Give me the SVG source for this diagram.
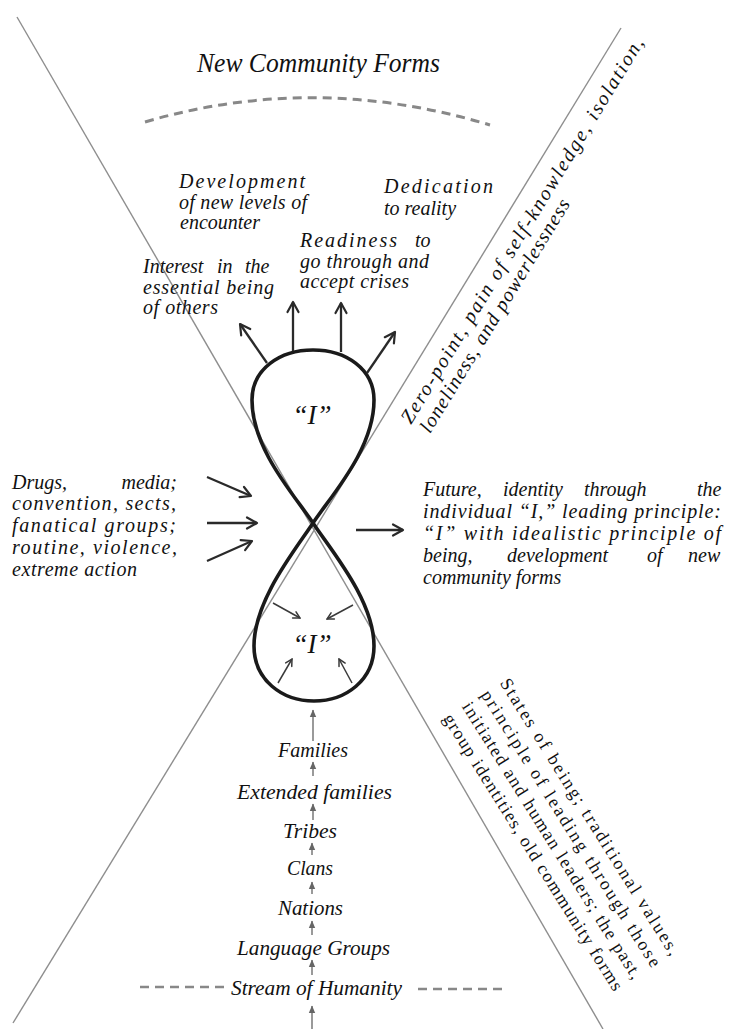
<svg xmlns="http://www.w3.org/2000/svg" width="734" height="1029" viewBox="0 0 734 1029">
<style>
text{font-family:'Liberation Serif','Times New Roman','DejaVu Serif',serif}
.it{font-style:italic;font-size:20px;fill:#111}
.st{font-size:21px}
.rm{font-style:normal;font-size:18px;fill:#111}
.ttl{font-size:27px}
.big{font-size:27px}
.guide{stroke:#8e8e8e;stroke-width:1.4;fill:none}
.dash{stroke:#888;stroke-width:3;fill:none;stroke-dasharray:9 6}
.arr{stroke:#2a2a2a;stroke-width:2.3;fill:none;marker-end:url(#ah)}
.arrs{stroke:#3a3a3a;stroke-width:1.5;fill:none;marker-end:url(#ahs)}
.arrg{stroke:#9a9a9a;stroke-width:2;fill:none;marker-end:url(#ahg)}
.eight{stroke:#1a1a1a;stroke-width:3.6;fill:none;stroke-linejoin:round}
</style>
<defs>
<marker id="ah" markerUnits="userSpaceOnUse" markerWidth="16" markerHeight="16" viewBox="0 0 16 16" refX="13" refY="8" orient="auto"><path d="M3,2.5 L13,8 L3,13.5" fill="none" stroke="#2a2a2a" stroke-width="2.2" stroke-linecap="round" stroke-linejoin="round"/></marker>
<marker id="ahs" markerUnits="userSpaceOnUse" markerWidth="10" markerHeight="10" viewBox="0 0 10 10" refX="8.5" refY="5" orient="auto"><path d="M2,1.5 L8.5,5 L2,8.5" fill="none" stroke="#3a3a3a" stroke-width="1.5" stroke-linecap="round"/></marker>
<marker id="ahg" markerUnits="userSpaceOnUse" markerWidth="8" markerHeight="8" viewBox="0 0 8 8" refX="7" refY="4" orient="auto"><path d="M0,0.8 L7.5,4 L0,7.2 z" fill="#666"/></marker>
</defs>
<rect width="734" height="1029" fill="#fff"/>

<g id="guides">
<line class="guide" x1="17" y1="17" x2="603" y2="1029"/>
<line class="guide" x1="621" y1="28" x2="13" y2="1023"/>
</g>

<g id="node-title"><text class="it ttl" x="197" y="72" textLength="243" lengthAdjust="spacingAndGlyphs">New Community Forms</text></g>
<g id="node-arc"><path class="dash" d="M145,122 Q315,72 490,125"/></g>

<g id="node-zero" transform="translate(411,425) rotate(-58.6)">
<text class="it" x="0" y="0" textLength="448" lengthAdjust="spacing">Zero-point, pain of self-knowledge, isolation,</text>
<text class="it" x="2" y="21" textLength="270" lengthAdjust="spacing">loneliness, and powerlessness</text>
</g>

<g id="node-development">
<text class="it" x="179" y="188" textLength="126" lengthAdjust="spacing">Development</text>
<text class="it" x="179" y="209" textLength="128" lengthAdjust="spacing">of new levels of</text>
<text class="it" x="180" y="229">encounter</text>
</g>
<g id="node-dedication">
<text class="it" x="384" y="193" textLength="109" lengthAdjust="spacing">Dedication</text>
<text class="it" x="384" y="215">to reality</text>
</g>
<g id="node-readiness">
<text class="it" x="300" y="247" textLength="97" lengthAdjust="spacing">Readiness</text>
<text class="it" x="415" y="247">to</text>
<text class="it" x="300" y="268" textLength="129" lengthAdjust="spacing">go through and</text>
<text class="it" x="300" y="288" textLength="109" lengthAdjust="spacing">accept crises</text>
</g>
<g id="node-interest">
<text class="it" y="273"><tspan x="143">Interest</tspan><tspan x="217">in</tspan><tspan x="245">the</tspan></text>
<text class="it" x="143" y="294" textLength="131" lengthAdjust="spacing">essential being</text>
<text class="it" x="143" y="314" textLength="75" lengthAdjust="spacing">of others</text>
</g>

<g id="node-drugs">
<text class="it" x="12" y="489">Drugs,</text>
<text class="it" x="177" y="489" text-anchor="end">media;</text>
<text class="it" x="12" y="510" textLength="164" lengthAdjust="spacing">convention, sects,</text>
<text class="it" x="12" y="532" textLength="164" lengthAdjust="spacing">fanatical groups;</text>
<text class="it" x="12" y="554" textLength="165" lengthAdjust="spacing">routine, violence,</text>
<text class="it" x="12" y="576" textLength="125" lengthAdjust="spacing">extreme action</text>
</g>

<g id="node-future">
<text class="it" y="496"><tspan x="423">Future,</tspan><tspan x="503">identity</tspan><tspan x="584">through</tspan><tspan x="697">the</tspan></text>
<text class="it" x="423" y="518" textLength="298" lengthAdjust="spacing">individual “I,” leading principle:</text>
<text class="it" x="423" y="540" textLength="298" lengthAdjust="spacing">“I” with idealistic principle of</text>
<text class="it" y="562"><tspan x="423">being,</tspan><tspan x="507">development</tspan><tspan x="647">of</tspan><tspan x="688">new</tspan></text>
<text class="it" x="423" y="584">community forms</text>
</g>

<g id="node-eight">
<path class="eight" d="M313,523 C296,497 252,450 252,400 C252,369 280,350 313,350 C346,350 374,369 374,400 C374,450 330,497 313,523 C296,549 254,600 254,646 C254,680 282,701 314,701 C346,701 374,680 374,646 C374,600 330,549 313,523 Z"/>
<text class="it big" x="312" y="424" text-anchor="middle">“I”</text>
<text class="it big" x="312" y="653" text-anchor="middle">“I”</text>
</g>

<g id="node-states" transform="translate(499.4,682.9) rotate(58)">
<text class="rm" x="0" y="0" textLength="323" lengthAdjust="spacing">States of being; traditional values,</text>
<text class="rm" x="0" y="22.3" textLength="323" lengthAdjust="spacing">principle of leading through those</text>
<text class="rm" x="0" y="44.6" textLength="323" lengthAdjust="spacing">initiated and human leaders; the past,</text>
<text class="rm" x="0" y="66.9" textLength="323" lengthAdjust="spacing">group identities, old community forms</text>
</g>

<g id="node-stack">
<text class="it st" x="278" y="757" textLength="70" lengthAdjust="spacingAndGlyphs">Families</text>
<text class="it st" x="237" y="799" textLength="155" lengthAdjust="spacingAndGlyphs">Extended families</text>
<text class="it st" x="283" y="838" textLength="54" lengthAdjust="spacingAndGlyphs">Tribes</text>
<text class="it st" x="287" y="875" textLength="46" lengthAdjust="spacingAndGlyphs">Clans</text>
<text class="it st" x="278" y="915" textLength="65" lengthAdjust="spacingAndGlyphs">Nations</text>
<text class="it st" x="237" y="955" textLength="153" lengthAdjust="spacingAndGlyphs">Language Groups</text>
<text class="it st" x="231" y="995" textLength="171" lengthAdjust="spacingAndGlyphs">Stream of Humanity</text>
<path class="dash" style="stroke-width:2.5" d="M140,987 H224"/>
<path class="dash" style="stroke-width:2.5" d="M418,989 H504"/>
</g>

<g id="connectors">
<line class="arr" x1="267" y1="363" x2="240" y2="324"/>
<line class="arr" x1="293" y1="351" x2="293" y2="302"/>
<line class="arr" x1="341" y1="352" x2="341" y2="303"/>
<line class="arr" x1="367" y1="373" x2="395" y2="332"/>
<line class="arr" x1="207" y1="477" x2="251" y2="496"/>
<line class="arr" x1="207" y1="523" x2="257" y2="523"/>
<line class="arr" x1="207" y1="561" x2="252" y2="541"/>
<line class="arr" x1="356" y1="530" x2="403" y2="530"/>
<line class="arrs" x1="273" y1="603" x2="300" y2="618"/>
<line class="arrs" x1="353" y1="605" x2="327" y2="619"/>
<line class="arrs" x1="278" y1="683" x2="292" y2="659"/>
<line class="arrs" x1="352" y1="683" x2="339" y2="659"/>
<line class="arrg" x1="313" y1="741" x2="313" y2="710"/>
<line class="arrg" x1="313" y1="776" x2="313" y2="762"/>
<line class="arrg" x1="313" y1="820" x2="313" y2="804"/>
<line class="arrg" x1="312" y1="855" x2="312" y2="843"/>
<line class="arrg" x1="312" y1="894" x2="312" y2="882"/>
<line class="arrg" x1="312" y1="935" x2="312" y2="921"/>
<line class="arrg" x1="312" y1="975" x2="312" y2="960"/>
<line class="arrg" x1="312" y1="1029" x2="312" y2="1006"/>
</g>
</svg>
